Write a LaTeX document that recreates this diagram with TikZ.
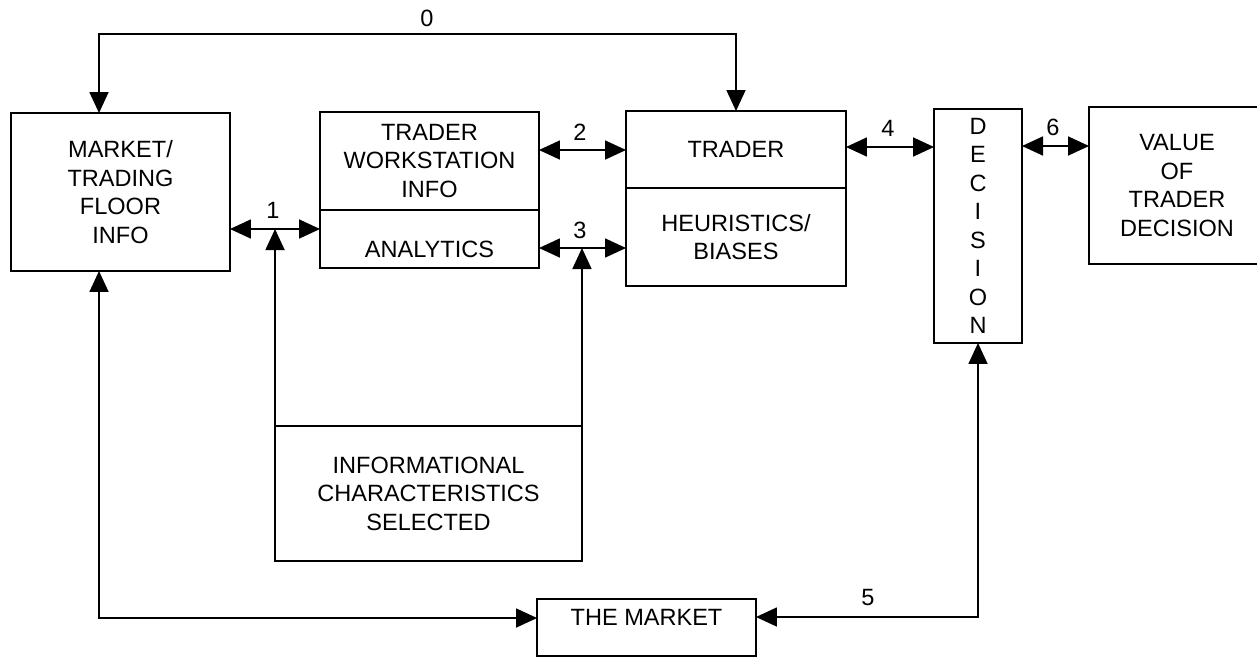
\documentclass[tikz,border=0pt]{standalone}
\usepackage{fontspec}
\setmainfont{Liberation Sans}
\usetikzlibrary{arrows.meta,positioning}
\tikzset{
  blk/.style={draw, line width=1.2pt, align=center, inner sep=0pt, outer sep=0pt,
    font=\fontsize{13.4}{16.2}\selectfont},
  num/.style={font=\fontsize{13.4}{15}\selectfont},
  lnk/.style={line width=1pt},
  onehead/.style={-{Triangle[length=0.42cm,width=0.38cm]}},
  twohead/.style={{Triangle[length=0.42cm,width=0.38cm]}-{Triangle[length=0.42cm,width=0.38cm]}}
}
\begin{document}
\begin{tikzpicture}[x=0.02cm, y=-0.02cm]
    \useasboundingbox (0,0) rectangle (1257,657);
    % boxes
    \node[blk, minimum width=4.38cm, minimum height=3.16cm] (mkt) at (120.5,192) {MARKET/\\TRADING\\FLOOR\\INFO};
    \node[blk, minimum width=4.38cm, minimum height=1.96cm] (twi) at (429.5,161) {TRADER\\WORKSTATION\\INFO};
    \node[blk, minimum width=4.38cm, minimum height=1.16cm, text height=0.75cm, below=0pt of twi] (ana) {ANALYTICS};
    \node[blk, minimum width=4.4cm, minimum height=1.54cm] (trd) at (736,149.5) {TRADER};
    \node[blk, minimum width=4.4cm, minimum height=1.96cm, below=0pt of trd] (heu) {HEURISTICS/\\BIASES};
    \node[blk, minimum width=1.76cm, minimum height=4.68cm] (dec) at (978,226) {D\\E\\C\\I\\S\\I\\O\\N};
    \node[blk, minimum width=3.52cm, minimum height=3.14cm] (val) at (1177,185.5) {VALUE\\OF\\TRADER\\DECISION};
    \node[blk, minimum width=6.14cm, minimum height=2.7cm] (inf) at (428.5,493.5) {INFORMATIONAL\\CHARACTERISTICS\\SELECTED};
    \node[blk, minimum width=4.38cm, minimum height=1.14cm, text depth=0.42cm] (thm) at (646.5,627.5) {THE MARKET};

    % links
    \coordinate (p0) at (99,34);
    \draw[lnk, twohead] (p0 |- mkt.north) -- (p0) -- (p0 -| trd.north) -- (trd.north);
    \node[num] (n0) at (427,18) {0};

    \coordinate (p1) at (276,229);
    \draw[lnk, twohead] (p1 -| mkt.east) -- (p1 -| ana.west);
    \draw[lnk, onehead] (inf.north west) -- (inf.north west |- p1);
    \node[num] (n1) at (273,210) {1};

    \coordinate (p2) at (582,150);
    \draw[lnk, twohead] (p2 -| twi.east) -- (p2 -| trd.west);
    \node[num] (n2) at (580,132) {2};

    \coordinate (p3) at (582,248);
    \draw[lnk, twohead] (p3 -| ana.east) -- (p3 -| heu.west);
    \draw[lnk, onehead] (inf.north east) -- (inf.north east |- p3);
    \node[num] (n3) at (580,230) {3};

    \coordinate (p4) at (890,147);
    \draw[lnk, twohead] (p4 -| trd.east) -- (p4 -| dec.west);
    \node[num] (n4) at (888,128) {4};

    \coordinate (p6) at (1055,146);
    \draw[lnk, twohead] (p6 -| dec.east) -- (p6 -| val.west);
    \node[num] (n6) at (1053,127) {6};

    \coordinate (p5) at (978,617);
    \draw[lnk, twohead] (dec.south) -- (p5) -- (p5 -| thm.east);
    \node[num] (n5) at (868,598) {5};

    \coordinate (p7) at (99,618);
    \draw[lnk, twohead] (p7 |- mkt.south) -- (p7) -- (p7 -| thm.west);
\end{tikzpicture}
\end{document}
